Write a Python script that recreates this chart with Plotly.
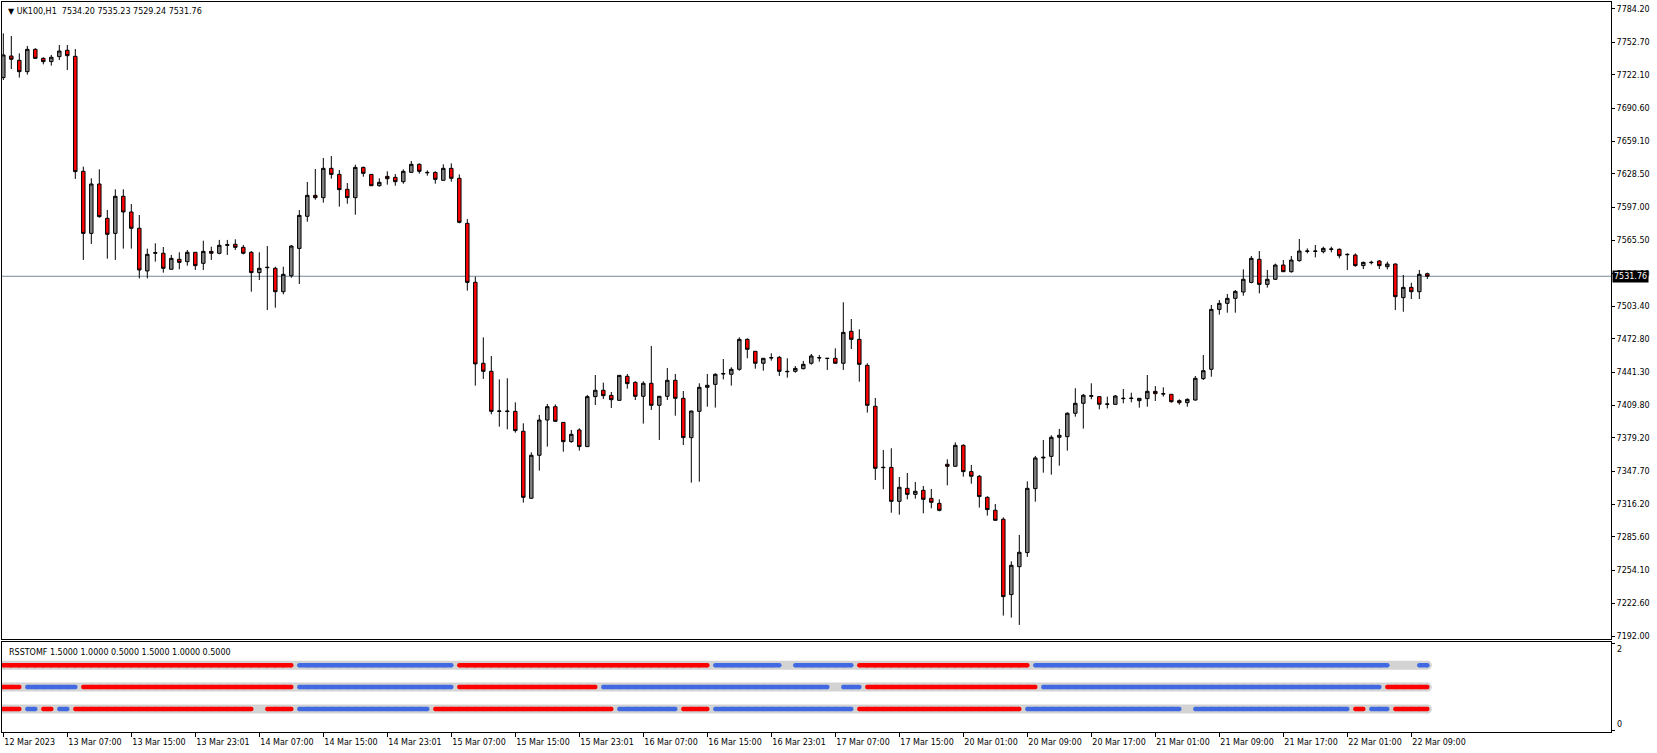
import plotly.graph_objects as go

# UK100 H1 candles (bar 0 = 12 Mar 2023, last bar = 22 Mar)
open_ = [7719.4, 7739.8, 7735.7, 7725.0, 7746.1, 7737.6, 7734.5, 7739.2, 7745.2, 7739.5,
         7630.9, 7572.3, 7618.9, 7586.5, 7572.3, 7607.3, 7592.5, 7577.1, 7536.8, 7553.5,
         7553.5, 7538.4, 7547.8, 7545.6, 7554.4, 7544.0, 7555.3, 7553.5, 7561.0, 7562.0,
         7559.1, 7554.4, 7535.2, 7539.9, 7539.3, 7517.2, 7532.3, 7558.1, 7588.4, 7608.2,
         7606.0, 7633.7, 7628.0, 7613.9, 7606.0, 7634.6, 7628.0, 7617.3, 7626.1, 7625.2,
         7621.1, 7629.9, 7637.5, 7629.9, 7629.9, 7622.4, 7633.7, 7624.3, 7581.8, 7526.1,
         7449.6, 7442.0, 7404.2, 7404.0, 7404.2, 7385.4, 7322.1, 7362.7, 7396.0, 7408.6,
         7393.8, 7375.6, 7386.6, 7370.9, 7418.1, 7424.1, 7419.3, 7414.6, 7437.3, 7431.6,
         7418.4, 7430.7, 7409.9, 7418.4, 7433.5, 7416.5, 7379.4, 7404.2, 7426.9, 7429.7,
         7439.5, 7439.2, 7443.9, 7472.2, 7460.9, 7449.6, 7454.6, 7455.2, 7442.0, 7442.0,
         7444.5, 7449.6, 7454.6, 7454.3, 7454.3, 7449.6, 7479.8, 7472.2, 7447.7, 7409.0,
         7351.0, 7351.3, 7319.2, 7331.5, 7325.8, 7329.6, 7322.0, 7317.3, 7354.2, 7352.3,
         7372.1, 7347.3, 7342.9, 7323.0, 7310.8, 7302.3, 7231.1, 7257.5, 7270.8, 7331.2,
         7360.2, 7361.7, 7379.7, 7380.3, 7402.4, 7411.8, 7418.4, 7418.1, 7410.9, 7410.8,
         7416.2, 7416.4, 7414.3, 7416.2, 7423.1, 7420.9, 7420.3, 7414.3, 7412.4, 7414.9,
         7435.1, 7443.9, 7500.5, 7506.2, 7510.9, 7516.9, 7526.0, 7547.8, 7524.1, 7528.9,
         7542.4, 7536.1, 7546.5, 7555.3, 7555.6, 7555.0, 7557.2, 7557.2, 7552.5, 7551.8,
         7541.8, 7544.6, 7546.2, 7540.8, 7543.3, 7511.6, 7521.3, 7517.2, 7534.20]
high_ = [7761.2, 7758.7, 7742.3, 7749.3, 7747.1, 7738.6, 7740.8, 7750.2, 7750.2, 7746.4,
         7635.3, 7624.3, 7632.8, 7594.4, 7613.9, 7613.9, 7600.0, 7589.6, 7557.9, 7562.9,
         7559.4, 7551.9, 7554.4, 7556.6, 7554.6, 7565.4, 7559.7, 7566.1, 7566.1, 7566.7,
         7561.3, 7555.5, 7554.4, 7560.3, 7540.8, 7540.8, 7561.3, 7594.3, 7620.8, 7633.1,
         7643.5, 7645.3, 7632.1, 7619.8, 7637.2, 7635.3, 7628.3, 7624.3, 7630.9, 7628.3,
         7632.7, 7640.6, 7638.4, 7631.8, 7630.9, 7637.5, 7638.4, 7628.0, 7585.8, 7531.4,
         7474.1, 7456.5, 7434.4, 7435.4, 7412.7, 7392.9, 7365.5, 7400.8, 7411.2, 7410.8,
         7394.0, 7386.6, 7388.2, 7419.7, 7438.5, 7431.3, 7422.5, 7438.5, 7439.5, 7432.6,
         7432.6, 7465.9, 7418.7, 7445.2, 7439.5, 7423.4, 7404.8, 7430.7, 7439.5, 7440.1,
         7453.6, 7445.8, 7474.1, 7473.2, 7461.2, 7454.6, 7459.0, 7456.5, 7454.3, 7447.0,
         7451.8, 7458.4, 7457.4, 7454.5, 7463.7, 7507.2, 7491.4, 7481.7, 7449.6, 7416.8,
         7367.7, 7369.3, 7342.2, 7346.0, 7337.5, 7333.7, 7330.9, 7321.1, 7358.9, 7374.9,
         7373.1, 7353.6, 7344.1, 7324.0, 7316.7, 7304.1, 7262.6, 7287.5, 7338.1, 7362.1,
         7377.2, 7381.6, 7387.6, 7403.3, 7426.0, 7420.6, 7430.7, 7418.7, 7418.1, 7419.6,
         7425.3, 7421.8, 7416.8, 7438.5, 7428.1, 7426.9, 7420.6, 7415.5, 7416.5, 7437.6,
         7457.4, 7504.6, 7509.3, 7515.0, 7518.8, 7538.3, 7550.9, 7555.6, 7537.7, 7543.7,
         7547.1, 7550.9, 7567.0, 7558.1, 7561.3, 7559.7, 7559.7, 7558.1, 7553.4, 7553.4,
         7545.6, 7546.5, 7547.1, 7545.6, 7544.0, 7533.0, 7525.7, 7537.7, 7535.23]
low_ = [7717.1, 7727.5, 7719.4, 7722.2, 7737.3, 7731.9, 7730.7, 7736.0, 7726.6, 7623.7,
        7547.2, 7562.3, 7587.1, 7548.4, 7547.2, 7557.9, 7557.9, 7529.8, 7529.8, 7545.6,
        7535.2, 7538.0, 7538.4, 7541.8, 7537.7, 7537.7, 7547.2, 7552.5, 7551.9, 7556.6,
        7552.5, 7517.2, 7528.2, 7499.9, 7502.1, 7514.7, 7530.4, 7524.5, 7583.3, 7604.1,
        7601.3, 7623.9, 7597.5, 7600.3, 7589.9, 7625.8, 7617.0, 7616.4, 7618.3, 7617.3,
        7619.2, 7629.6, 7628.7, 7626.8, 7619.2, 7622.1, 7621.1, 7581.8, 7518.2, 7428.5,
        7434.8, 7401.4, 7389.7, 7387.2, 7384.1, 7318.0, 7321.8, 7348.2, 7370.9, 7394.5,
        7366.1, 7374.6, 7367.1, 7370.6, 7410.2, 7415.9, 7407.4, 7414.3, 7425.6, 7414.9,
        7392.6, 7405.5, 7377.2, 7414.9, 7400.1, 7372.4, 7336.9, 7337.8, 7408.6, 7407.7,
        7434.4, 7428.5, 7442.6, 7454.3, 7444.5, 7442.6, 7452.1, 7437.6, 7436.0, 7440.7,
        7443.9, 7448.3, 7451.1, 7443.3, 7449.3, 7443.3, 7463.1, 7432.2, 7403.0, 7339.4,
        7330.6, 7308.5, 7306.6, 7321.1, 7321.7, 7307.9, 7312.6, 7309.8, 7334.3, 7352.0,
        7342.5, 7335.9, 7313.3, 7305.7, 7301.0, 7211.3, 7209.4, 7202.5, 7266.7, 7318.9,
        7346.3, 7344.4, 7352.9, 7367.1, 7399.2, 7387.9, 7415.6, 7406.1, 7407.0, 7410.5,
        7411.8, 7412.7, 7407.7, 7408.6, 7414.0, 7418.1, 7412.4, 7410.5, 7408.6, 7414.3,
        7433.8, 7436.9, 7495.5, 7497.4, 7497.4, 7513.4, 7525.1, 7515.6, 7521.0, 7528.2,
        7535.8, 7535.2, 7545.6, 7553.4, 7549.6, 7553.4, 7554.4, 7548.7, 7537.7, 7540.8,
        7538.6, 7543.0, 7538.6, 7538.3, 7499.9, 7498.3, 7510.3, 7510.3, 7529.24]
close_ = [7740.8, 7736.7, 7725.0, 7746.1, 7737.6, 7734.5, 7738.6, 7744.5, 7740.1, 7630.6,
          7572.3, 7618.9, 7588.1, 7571.4, 7607.3, 7592.5, 7577.1, 7537.7, 7552.5, 7554.1,
          7539.3, 7548.7, 7544.9, 7554.4, 7541.8, 7555.3, 7553.5, 7561.0, 7561.6, 7559.1,
          7553.5, 7535.2, 7539.3, 7540.2, 7517.2, 7533.6, 7560.3, 7589.3, 7608.2, 7606.0,
          7633.7, 7628.0, 7613.6, 7606.0, 7634.6, 7629.0, 7617.3, 7620.5, 7623.9, 7621.1,
          7630.9, 7637.5, 7630.9, 7629.6, 7623.3, 7633.7, 7624.3, 7582.7, 7526.0, 7449.0,
          7442.0, 7404.2, 7404.5, 7404.4, 7386.0, 7323.0, 7362.7, 7396.0, 7408.6, 7394.8,
          7375.6, 7382.5, 7370.9, 7418.1, 7424.1, 7419.0, 7415.2, 7438.2, 7430.4, 7418.4,
          7430.7, 7409.9, 7418.4, 7433.5, 7416.5, 7379.4, 7404.5, 7426.9, 7428.8, 7439.2,
          7439.8, 7443.9, 7472.2, 7462.8, 7449.6, 7454.3, 7454.9, 7442.0, 7441.7, 7444.8,
          7448.6, 7456.5, 7454.9, 7454.2, 7449.6, 7478.8, 7472.2, 7448.6, 7409.9, 7350.4,
          7351.3, 7319.2, 7332.5, 7325.8, 7328.7, 7321.1, 7318.3, 7310.7, 7352.3, 7372.1,
          7347.3, 7342.9, 7323.7, 7311.4, 7301.3, 7229.2, 7258.8, 7271.1, 7331.5, 7360.2,
          7360.8, 7379.7, 7381.6, 7402.4, 7411.8, 7419.4, 7419.0, 7410.9, 7411.1, 7418.7,
          7416.5, 7416.6, 7416.5, 7423.1, 7420.9, 7420.6, 7413.3, 7412.4, 7415.5, 7435.4,
          7442.6, 7500.5, 7506.2, 7510.9, 7517.5, 7528.9, 7548.7, 7524.1, 7528.9, 7542.4,
          7536.1, 7547.1, 7555.6, 7555.6, 7555.4, 7558.1, 7557.5, 7551.2, 7552.2, 7541.8,
          7544.9, 7544.9, 7541.8, 7543.3, 7512.5, 7521.3, 7517.2, 7533.6, 7531.76]

# time axis labels, one every 8 bars
label_bars = [0, 8, 16, 24, 32, 40, 48, 56, 64, 72, 80, 88, 96, 104, 112, 120,
              128, 136, 144, 152, 160, 168, 176]
time_labels = ["12 Mar 2023", "13 Mar 07:00", "13 Mar 15:00", "13 Mar 23:01",
               "14 Mar 07:00", "14 Mar 15:00", "14 Mar 23:01", "15 Mar 07:00",
               "15 Mar 15:00", "15 Mar 23:01", "16 Mar 07:00", "16 Mar 15:00",
               "16 Mar 23:01", "17 Mar 07:00", "17 Mar 15:00", "20 Mar 01:00",
               "20 Mar 09:00", "20 Mar 17:00", "21 Mar 01:00", "21 Mar 09:00",
               "21 Mar 17:00", "22 Mar 01:00", "22 Mar 09:00"]

price_ticks = [7784.20, 7752.70, 7722.10, 7690.60, 7659.10, 7628.50, 7597.00,
               7565.50, 7534.00, 7503.40, 7472.80, 7441.30, 7409.80, 7379.20,
               7347.70, 7316.20, 7285.60, 7254.10, 7222.60, 7192.00]

# RSSTOMF rows: level and colour runs (R = red, B = blue), one entry per bar
row_levels = [1.5, 1.0, 0.5]
row1_runs = [("R", 37), ("B", 20), ("R", 32), ("B", 9), ("R", 1), ("B", 8), ("R", 22),
             ("B", 45), ("R", 1), ("B", 1), ("R", 1), ("B", 2)]
row2_runs = [("R", 3), ("B", 7), ("R", 27), ("B", 20), ("R", 18), ("B", 29), ("R", 1),
             ("B", 3), ("R", 22), ("B", 43), ("R", 6)]
row3_runs = [("R", 3), ("B", 2), ("R", 2), ("B", 2), ("R", 23), ("B", 1), ("R", 4),
             ("B", 17), ("R", 23), ("B", 8), ("R", 4), ("B", 18), ("R", 21), ("B", 20),
             ("R", 1), ("B", 20), ("R", 2), ("B", 3), ("R", 5)]

RED = "#ff0000"
BLUE = "#4169e1"
GRAY = "#d3d3d3"
FONT = "DejaVu Sans"

bars = list(range(len(close_)))

fig = go.Figure()

fig.add_trace(go.Candlestick(
    x=bars, open=open_, high=high_, low=low_, close=close_,
    increasing=dict(line=dict(color="black", width=1), fillcolor="#808080"),
    decreasing=dict(line=dict(color="black", width=1), fillcolor=RED),
    whiskerwidth=0, xaxis="x", yaxis="y",
))

# indicator panel
for level, runs in zip(row_levels, [row1_runs, row2_runs, row3_runs]):
    fig.add_trace(go.Scatter(
        x=[bars[0], bars[-1]], y=[level, level], mode="lines+markers",
        line=dict(color=GRAY, width=9), marker=dict(size=9, color=GRAY),
        xaxis="x2", yaxis="y2",
    ))
    for code, colour in [("R", RED), ("B", BLUE)]:
        xs, ys = [], []
        start = 0
        for c, n in runs:
            if c == code and n > 1:
                xs += bars[start:start + n] + [None]
                ys += [level] * n + [None]
            start += n
        fig.add_trace(go.Scatter(
            x=xs, y=ys, mode="lines+markers", connectgaps=False,
            line=dict(color=colour, width=4.5), marker=dict(size=4.5, color=colour),
            xaxis="x2", yaxis="y2",
        ))

axis_common = dict(showgrid=False, zeroline=False, showline=True, mirror=True,
                   linecolor="black", linewidth=1)

fig.update_layout(
    width=1657, height=753,
    margin=dict(l=2, r=46, t=2, b=21),
    paper_bgcolor="white", plot_bgcolor="white",
    showlegend=False, hovermode=False, boxgap=0.38,
    font=dict(family=FONT, size=8, color="black"),
    xaxis=dict(domain=[0, 1], range=[-0.1625, 200.96], showticklabels=False,
               ticks="", rangeslider=dict(visible=False), anchor="y", **axis_common),
    yaxis=dict(domain=[0.1274, 1], range=[7189.2, 7790.8], side="right",
               tickvals=price_ticks, ticktext=[f"{v:.2f}" for v in price_ticks],
               ticks="outside", ticklen=3, tickcolor="black",
               tickfont=dict(family=FONT, size=8, color="black"), anchor="x",
               **axis_common),
    xaxis2=dict(domain=[0, 1], matches="x", anchor="y2", tickvals=label_bars,
                ticktext=time_labels, ticks="outside", ticklen=4, tickcolor="black",
                ticklabelposition="outside right", ticklabelstandoff=2,
                tickfont=dict(family=FONT, size=8, color="black"), **axis_common),
    yaxis2=dict(domain=[0, 0.1237], range=[-0.023, 2.034], side="right",
                tickvals=[0, 2], showticklabels=False, ticks="outside", ticklen=3,
                tickcolor="black", anchor="x2", **axis_common),
)

# bid line at last close
fig.add_shape(type="line", xref="x domain", x0=0, x1=1, yref="y",
              y0=close_[-1], y1=close_[-1], line=dict(color="#778899", width=1),
              layer="below")

title = ("\u25bc\u00a0UK100,H1\u00a0\u00a0"
         f"{open_[-1]:.2f} {high_[-1]:.2f} {low_[-1]:.2f} {close_[-1]:.2f}")
fig.add_annotation(text=title, xref="paper", yref="paper", x=0, y=1,
                   xanchor="left", yanchor="top", xshift=4, yshift=-3,
                   showarrow=False, font=dict(family=FONT, size=8, color="black"))

fig.add_annotation(text="RSSTOMF 1.5000 1.0000 0.5000 1.5000 1.0000 0.5000",
                   xref="paper", yref="paper", x=0, y=0.1237, xanchor="left",
                   yanchor="top", xshift=5, yshift=-4, showarrow=False,
                   font=dict(family=FONT, size=8, color="black"))

fig.add_annotation(text=f"{close_[-1]:.2f}", xref="paper", yref="y", x=1,
                   y=close_[-1], xanchor="left", yanchor="middle", xshift=1,
                   showarrow=False, bgcolor="black", borderpad=1,
                   font=dict(family=FONT, size=8, color="white"))

for val, anchor in [(2, "top"), (0, "bottom")]:
    fig.add_annotation(text=str(val), xref="paper", yref="y2", x=1, y=val,
                       xanchor="left", yanchor=anchor, xshift=4, showarrow=False,
                       font=dict(family=FONT, size=8, color="black"))

# the page's default body margin would shift the figure by 8px
fig.write_html("out.html", config={"displayModeBar": False},
               post_script="document.body.style.margin = '0';")
